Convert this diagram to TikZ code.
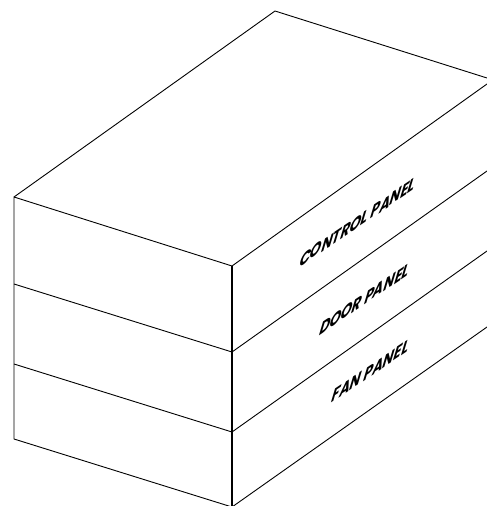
\documentclass[tikz,border=0pt]{standalone}
\usepackage{fontspec}
\setmainfont{Poppins}[UprightFont=* Bold,BoldFont=* Bold]
\tikzset{edge/.style={draw=black,line width=0.9pt,line join=round},
 lab/.style={font=\fontsize{20}{20}\selectfont,inner sep=0pt,transform shape,anchor=center}}
\begin{document}
\begin{tikzpicture}[x=1pt,y=-1pt]
\useasboundingbox (0,0) rectangle (487,506);
\coordinate (back) at (275,11);
\coordinate (rt) at (487,78);
\coordinate (r1) at (487,84);
\coordinate (tl) at (14,197);
\coordinate (tf) at (232,266);
\coordinate (ml) at (14,284);
\coordinate (mf) at (232,352);
\coordinate (r2) at (487,171);
\coordinate (nl) at (14,364);
\coordinate (nf) at (232,432);
\coordinate (r3) at (487,251);
\coordinate (bl) at (14,439);
\coordinate (bf) at (232,507);
\coordinate (r4) at (487,327);
\path[edge] (tl) -- (back) -- (rt);
\path[edge] (r1) -- (tf) -- (tl) -- (bl) -- (bf);
\path[edge] (ml) -- (mf) -- (r2);
\path[edge] (nl) -- (nf) -- (r3);
\path[edge] (bf) -- (r4);
\path[edge,line width=1.5pt] (tf) -- (bf);
\begin{scope}[shift={(358,222)},cm={0.71,0.48,0.3,1,(0,0)}]
\node[lab] (a) at (0,0) {CONTROL PANEL};
\end{scope}
\begin{scope}[shift={(365,299)},cm={0.71,0.48,0.3,1,(0,0)}]
\node[lab] (b) at (0,0) {DOOR PANEL};
\end{scope}
\begin{scope}[shift={(371,371)},cm={0.71,0.48,0.3,1,(0,0)}]
\node[lab] (c) at (0,0) {FAN PANEL};
\end{scope}
\end{tikzpicture}
\end{document}
